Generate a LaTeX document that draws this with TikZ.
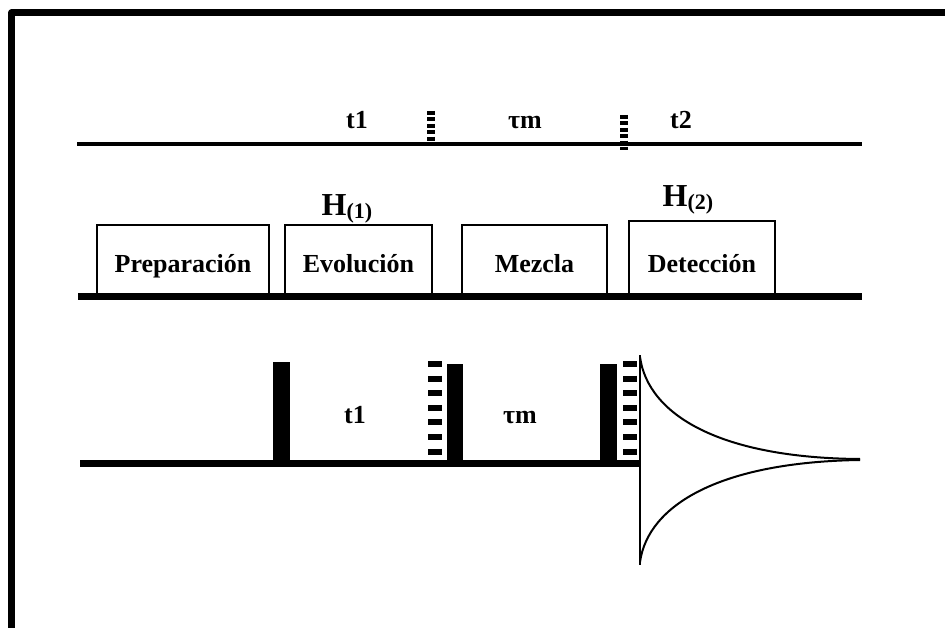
\documentclass[tikz,border=0pt]{standalone}
\usepackage{fontspec}
\setmainfont{Liberation Serif}
\begin{document}
\begin{tikzpicture}[x=1pt,y=-1pt,
  txt/.style={font=\fontsize{26}{30}\selectfont\bfseries, inner sep=0pt, anchor=base},
  ham/.style={font=\fontsize{32}{36}\selectfont\bfseries, inner sep=0pt, anchor=base},
  etapa/.style={draw, line width=1.5pt, inner sep=0pt, anchor=south,
    minimum width=#1, text height=47pt, text depth=23pt,
    font=\fontsize{26}{30}\selectfont\bfseries},
  pulso/.style={fill=black},
  marca/.style={line width=7.5pt, dash pattern=on 4pt off 2.4pt},
  marcab/.style={line width=14pt, dash pattern=on 6pt off 8.6pt}]
  \useasboundingbox (0,0) rectangle (945,628);
  \draw[line width=7pt, line join=round] (11.5,628) -- (11.5,13) -- (945,13) ;

  % escala de tiempos
  \draw[line width=4pt] (77,144) -- (862,144) ;
  \draw[marca] (431,111) -- (431,142) ;
  \draw[marca] (624,115) -- (624,150) ;
  \node[txt] (t1a) at (357,129) {t1} ;
  \node[txt] (tma) at (525,129) {τm} ;
  \node[txt] (t2a) at (681,129) {t2} ;

  % etapas
  \draw[line width=7pt] (78,297) -- (862,297) ;
  \node[etapa=172pt] (prep) at (183,296) {Preparación} ;
  \node[etapa=147pt] (evol) at (358.5,296) {Evolución} ;
  \node[etapa=145pt] (mezc) at (534.5,296) {Mezcla} ;
  \node[etapa=146pt, text height=51pt] (dete) at (702,296) {Detección} ;
  \node[ham] (h1) at (347,216) {H\raisebox{-3pt}{\fontsize{22}{24}\selectfont(1)}} ;
  \node[ham] (h2) at (688,207) {H\raisebox{-3pt}{\fontsize{22}{24}\selectfont(2)}} ;

  % secuencia de pulsos
  \draw[line width=7pt] (80,463) -- (640,463) ;
  \fill[pulso] (273,362) rectangle (290,463) ;
  \fill[pulso] (447,364) rectangle (463,463) ;
  \fill[pulso] (600,364) rectangle (617,463) ;
  \draw[marcab] (435,361) -- (435,460) ;
  \draw[marcab] (629.5,361) -- (629.5,460) ;
  \node[txt] (t1b) at (355,423) {t1} ;
  \node[txt] (tmb) at (520,423) {τm} ;

  \draw[line width=2pt] (640,355) -- (640,565) ;
  \draw[line width=2pt] (640,357) .. controls (648,415) and (720,458) .. (860,459) ;
  \draw[line width=2pt] (640,562) .. controls (648,505) and (720,462) .. (860,460) ;
\end{tikzpicture}
\end{document}
